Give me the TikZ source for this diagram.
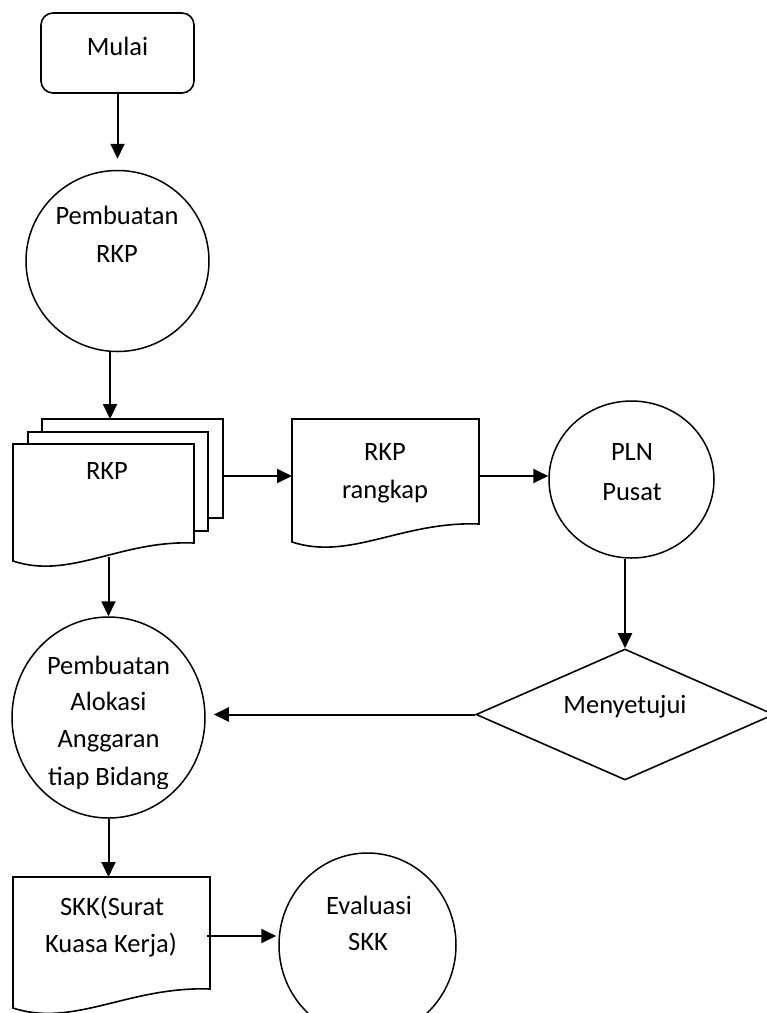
\documentclass[tikz,border=0pt]{standalone}
\usepackage{fontspec}
\setmainfont{Carlito}
\usetikzlibrary{arrows.meta,shapes.geometric,calc}
\begin{document}
\begin{tikzpicture}[x=1pt,y=-1pt,
  shapebox/.style={draw,line width=1.6pt,fill=white,line join=miter},
  oval/.style={draw,ellipse,line width=1.5pt,inner sep=0pt},
  lbl/.style={anchor=base,inner sep=0pt,font=\fontsize{26.5}{32}\selectfont},
  arr/.style={-{Triangle[length=15pt,width=14pt]},line width=2pt}]
\useasboundingbox (0,0) rectangle (767,1013);

% Start
\node[draw,rounded corners=12pt,minimum width=153pt,minimum height=80pt,line width=1.6pt] (mulai) at (117.5,53) {};
\node[lbl] (tmulai) at (117.5,55) {Mulai};

% Pembuatan RKP
\node[oval,minimum width=183pt,minimum height=181pt] (c1) at (117.5,261) {};
\node[lbl] (tc1a) at (117,224) {Pembuatan};
\node[lbl] (tc1b) at (117,262) {RKP};

% RKP multi-document
\draw[shapebox] (42,419) rectangle (223,518);
\draw[shapebox] (28,432) rectangle (208,531);
\draw[shapebox] (194,543) -- (194,444) -- (13,444) -- (13,561) .. controls (70,580) and (120,540) .. (194,543) -- cycle;
\node[lbl] (trkp) at (107,479) {RKP};
\coordinate (rkpTop) at (110,419);
\coordinate (rkpR) at (223,476);
\coordinate (rkpBot) at (108.5,557);

% RKP rangkap document
\draw[shapebox] (479,524) -- (479,419) -- (292,419) -- (292,542) .. controls (350,561) and (402,521) .. (479,524) -- cycle;
\node[lbl] (trga) at (385,460) {RKP};
\node[lbl] (trgb) at (385,498) {rangkap};
\coordinate (rgL) at (292,476);
\coordinate (rgR) at (479,476);

% PLN Pusat
\node[oval,minimum width=165pt,minimum height=157pt] (pln) at (631.5,479.5) {};
\node[lbl] (tplna) at (632,460) {PLN};
\node[lbl] (tplnb) at (632,500) {Pusat};

% Decision
\node[draw,diamond,minimum width=298pt,minimum height=131pt,inner sep=0pt,line width=1.6pt] (dec) at (625,714.5) {};
\node[lbl] (tdec) at (625,713) {Menyetujui};

% Pembuatan Alokasi Anggaran
\node[oval,minimum width=193pt,minimum height=201pt] (al) at (108.5,717.5) {};
\node[lbl] (tala) at (108.5,674) {Pembuatan};
\node[lbl] (talb) at (108.5,710) {Alokasi};
\node[lbl] (talc) at (108.5,747) {Anggaran};
\begin{scope}
\clip (0,600) rectangle (230,788);
\node[lbl] (tald) at (108.5,785) {tiap Bidang};
\end{scope}

% SKK document
\draw[shapebox] (210,989) -- (210,877) -- (13,877) -- (13,1008) .. controls (74,1028) and (129,986) .. (210,989) -- cycle;
\node[lbl] (tskka) at (112,915) {SKK(Surat};
\node[lbl] (tskkb) at (111,952) {Kuasa Kerja)};
\coordinate (skkTop) at (108.5,877);
\coordinate (skkR) at (207,936);

% Evaluasi SKK
\node[oval,minimum width=177pt,minimum height=184pt] (ev) at (367.5,945) {};
\node[lbl] (teva) at (369,914) {Evaluasi};
\node[lbl] (tevb) at (368,950) {SKK};

% Connectors
\draw[arr,shorten >=11pt] (mulai.south) -- (c1.north);
\draw[arr] (c1.south -| rkpTop) -- (rkpTop);
\draw[arr] (rkpR) -- (rgL);
\draw[arr] (rgR) -- (rgR -| pln.west);
\draw[arr] (pln.south -| dec.north) -- (dec.north);
\draw[arr,shorten >=8pt] (dec.west) -- (dec.west -| al.east);
\draw[arr] (rkpBot) -- (al.north);
\draw[arr] (al.south) -- (skkTop);
\draw[arr,shorten >=2pt] (skkR) -- (skkR -| ev.west);
\end{tikzpicture}
\end{document}
